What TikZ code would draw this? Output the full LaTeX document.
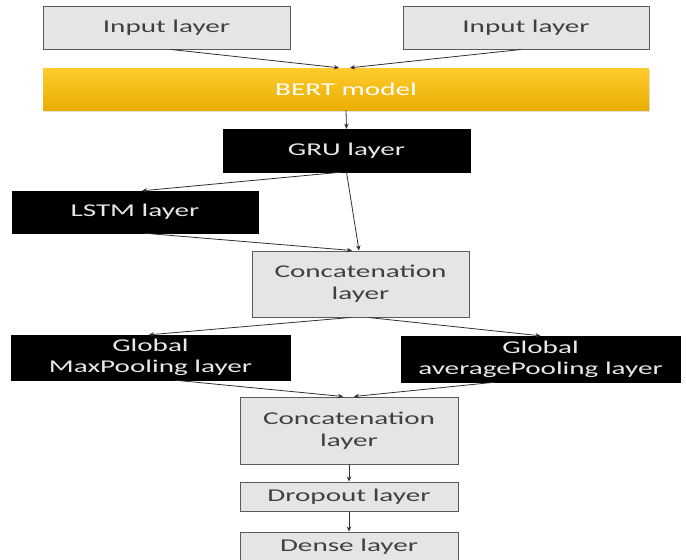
\documentclass[tikz,border=0pt]{standalone}
\usepackage{fontspec}
\setmainfont{Carlito}[FakeStretch=1.62]
\usetikzlibrary{arrows.meta,shadows}
\definecolor{boxfill}{HTML}{E6E5E6}
\definecolor{boxline}{HTML}{5A5A5A}
\definecolor{boxtext}{HTML}{404040}
\definecolor{darktext}{HTML}{E8E8E8}
\definecolor{goldtop}{HTML}{FFCB2E}
\definecolor{goldbot}{HTML}{E9AE00}
\definecolor{arr}{HTML}{303030}
\begin{document}
\begin{tikzpicture}[x=1pt,y=-1pt,
  base/.style={rectangle,inner sep=0pt,align=center,font=\fontsize{18}{22}\selectfont},
  greybox/.style={base,draw=boxline,line width=1pt,fill=boxfill,text=boxtext},
  blackbox/.style={base,draw=black,fill=black,text=darktext},
  goldbox/.style={base,top color=goldtop,bottom color=goldbot,draw=none,text=white,
     drop shadow={opacity=0.25,shadow xshift=1pt,shadow yshift=-2pt}},
  conn/.style={draw=arr,line width=0.8pt,-{Stealth[length=5pt,width=4.5pt]}}]
\useasboundingbox (0,0) rectangle (686,560);
\node[greybox,minimum width=247pt,minimum height=43pt] (in1) at (166.5,27.5) {Input layer};
\node[greybox,minimum width=246pt,minimum height=43pt] (in2) at (526,27.5) {Input layer};
\node[goldbox,minimum width=606pt,minimum height=42pt] (bert) at (346,89) {BERT model};
\node[blackbox,minimum width=247pt,minimum height=43pt] (gru) at (346.5,150.5) {GRU layer};
\node[blackbox,minimum width=246pt,minimum height=42pt] (lstm) at (135,212) {LSTM layer};
\node[greybox,minimum width=217pt,minimum height=66pt] (cat1) at (360.5,284) {Concatenation\\layer};
\node[blackbox,minimum width=279pt,minimum height=45pt,font=\fontsize{18}{21}\selectfont] (gmax) at (150.5,357.5) {Global\\MaxPooling layer};
\node[blackbox,minimum width=279pt,minimum height=46pt,font=\fontsize{18}{21}\selectfont] (gavg) at (540.5,359) {Global\\averagePooling layer};
\node[greybox,minimum width=218pt,minimum height=67pt] (cat2) at (349,430.5) {Concatenation\\layer};
\node[greybox,minimum width=218pt,minimum height=29pt] (drop) at (349,496.5) {Dropout layer};
\node[greybox,minimum width=218pt,minimum height=29pt] (dense) at (349,546.5) {Dense layer};
\draw[conn] ([xshift=4.5pt]in1.south) -- ([xshift=-7pt]bert.north);
\draw[conn] ([xshift=-5pt]in2.south) -- ([xshift=4pt]bert.north);
\draw[conn] (bert.south) -- (gru.north);
\draw[conn] ([xshift=-5.5pt]gru.south) -- ([xshift=7pt]lstm.north);
\draw[conn] (gru.south) -- ([xshift=-1.5pt]cat1.north);
\draw[conn] ([xshift=9pt]lstm.south) -- ([xshift=-8.5pt]cat1.north);
\draw[conn] ([xshift=-10pt]cat1.south) -- ([xshift=-1.5pt]gmax.north);
\draw[conn] ([xshift=8pt]cat1.south) -- (gavg.north);
\draw[conn] ([xshift=24.5pt]gmax.south) -- ([xshift=-6pt]cat2.north);
\draw[conn] ([xshift=-45.5pt]gavg.south) -- ([xshift=5pt]cat2.north);
\draw[conn] (cat2.south) -- (drop.north);
\draw[conn] (drop.south) -- (dense.north);
\end{tikzpicture}
\end{document}
